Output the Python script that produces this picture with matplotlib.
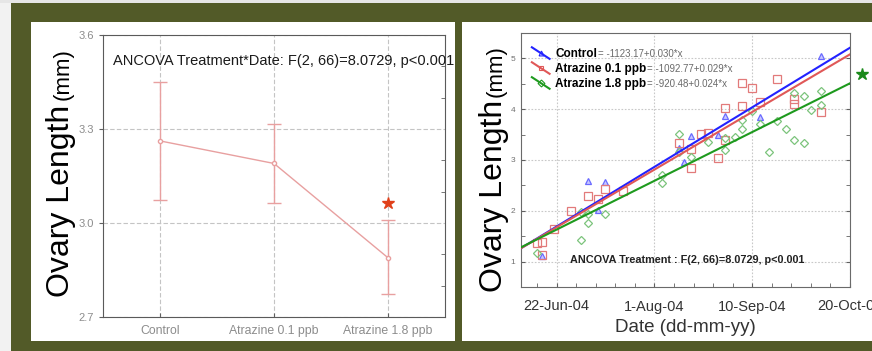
import matplotlib
matplotlib.use("Agg")
import matplotlib.pyplot as plt
import matplotlib.dates as mdates
import numpy as np
from matplotlib.lines import Line2D
from matplotlib.patches import Rectangle
from matplotlib.legend_handler import HandlerLine2D
from matplotlib.ticker import MultipleLocator, FormatStrFormatter, FixedLocator

plt.rcParams['font.family'] = ['Liberation Sans', 'DejaVu Sans']

# left panel: treatment means with confidence limits
groups = ["Control", "Atrazine 0.1 ppb", "Atrazine 1.8 ppb"]
group_mean = [3.262, 3.190, 2.889]
group_upper = [3.451, 3.316, 3.008]
group_lower = [3.072, 3.065, 2.773]
star_left = 3.063

# right panel: ovary length by sampling date
ctrl_dates = ["2004-06-16", "2004-07-05", "2004-07-09", "2004-07-12", "2004-08-11",
              "2004-08-13", "2004-08-16", "2004-08-27", "2004-08-30", "2004-09-13",
              "2004-10-08"]
ctrl_len = [1.11, 2.59, 2.02, 2.56, 3.23, 2.97, 3.47, 3.50, 3.87, 3.84, 5.05]

atr01_dates = ["2004-06-14", "2004-06-16", "2004-06-16", "2004-06-21", "2004-06-28",
               "2004-07-05", "2004-07-09", "2004-07-12", "2004-07-19", "2004-08-11",
               "2004-08-16", "2004-08-16", "2004-08-20", "2004-08-23", "2004-08-27",
               "2004-08-30", "2004-08-30", "2004-09-06", "2004-09-06", "2004-09-10",
               "2004-09-13", "2004-09-20", "2004-09-27", "2004-09-27", "2004-10-08"]
atr01_len = [1.36, 1.39, 1.13, 1.64, 2.00, 2.30, 2.23, 2.42, 2.38, 3.34,
             3.22, 2.84, 3.52, 3.54, 3.03, 3.39, 4.02, 4.07, 4.51, 4.42,
             4.14, 4.59, 4.20, 4.11, 3.94]

atr18_dates = ["2004-06-14", "2004-07-02", "2004-07-02", "2004-07-05", "2004-07-05",
               "2004-07-12", "2004-08-04", "2004-08-04", "2004-08-11", "2004-08-11",
               "2004-08-16", "2004-08-23", "2004-08-30", "2004-08-30", "2004-09-03",
               "2004-09-06", "2004-09-06", "2004-09-10", "2004-09-13", "2004-09-17",
               "2004-09-20", "2004-09-24", "2004-09-27", "2004-09-27", "2004-10-01",
               "2004-10-01", "2004-10-04", "2004-10-08", "2004-10-08"]
atr18_len = [1.16, 1.42, 1.98, 1.93, 1.75, 1.93, 2.70, 2.54, 3.52, 3.16,
             3.05, 3.36, 3.43, 3.20, 3.46, 3.79, 3.62, 3.97, 3.70, 3.15,
             3.77, 3.61, 4.31, 3.39, 4.25, 3.33, 3.98, 4.36, 4.09]

# fitted lines, read at both ends of the date axis
fit_dates = ["2004-06-07", "2004-10-20"]
ctrl_fit = [1.25, 5.21]
atr01_fit = [1.25, 5.08]
atr18_fit = [1.27, 4.51]
equations = ["= -1123.17+0.030*x", "= -1092.77+0.029*x", "= -920.48+0.024*x"]
series_names = ["Control", "Atrazine 0.1 ppb", "Atrazine 1.8 ppb"]
star_right = ("2004-10-25", 4.69)

tick_dates = ["2004-06-22", "2004-08-01", "2004-09-10", "2004-10-20"]
tick_labels = ["22-Jun-04", "1-Aug-04", "10-Sep-04", "20-Oct-04"]

W, H = 872, 351
OLIVE = "#525a28"


def fig_rect(x0, y0, x1, y1, color):
    # rectangle given in pixel coords from the top-left corner
    return Rectangle((x0 / W, 1 - y1 / H), (x1 - x0) / W, (y1 - y0) / H,
                     transform=fig.transFigure, facecolor=color, edgecolor="none", zorder=-5)


class SlantHandler(HandlerLine2D):
    # Statistica style legend key: a short falling line with the marker in the middle
    def create_artists(self, legend, orig_handle, xdescent, ydescent, width, height, fontsize, trans):
        x0, x1 = -xdescent, width - xdescent
        y0, y1 = -ydescent - 0.25 * height, height - ydescent + 0.15 * height
        line = Line2D([x0, x1], [y1, y0], color=orig_handle.get_color(), lw=orig_handle.get_linewidth())
        mk = Line2D([(x0 + x1) / 2], [(y0 + y1) / 2], ls="none", marker=orig_handle.get_marker(),
                    ms=3.5, mfc="none", mec=orig_handle.get_color(), mew=0.8)
        line.set_transform(trans)
        mk.set_transform(trans)
        return [line, mk]


fig = plt.figure(figsize=(W / 100, H / 100), dpi=100, facecolor=OLIVE)
fig.add_artist(fig_rect(0, 0, 11, H, "#f2f2f2"))
fig.add_artist(fig_rect(0, 0, W, 3, "#e6e6e6"))
fig.add_artist(fig_rect(31, 22, 455, 341, "white"))
fig.add_artist(fig_rect(462, 22, W, 341, "white"))

# ---------------- left panel ----------------
axL = fig.add_axes([103 / W, 1 - 317 / H, 342 / W, 282 / H])
xs = np.arange(len(groups))
yerr = [np.subtract(group_mean, group_lower), np.subtract(group_upper, group_mean)]
pink = "#e8a0a0"
axL.errorbar(xs, group_mean, yerr=yerr, fmt="-o", color=pink, lw=1, elinewidth=1,
             capsize=5, capthick=1, ms=3, mfc="white", mec=pink, zorder=3)
axL.plot(xs[2], star_left, ls="none", marker="*", ms=9, color="#e0401a", zorder=4)
axL.set_xlim(-0.5, 2.5)
axL.set_ylim(2.7, 3.6)
axL.set_xticks(xs, groups)
axL.set_yticks([2.7, 3.0, 3.3, 3.6])
axL.yaxis.set_major_formatter(FormatStrFormatter("%.1f"))
axL.yaxis.set_minor_locator(MultipleLocator(0.1))
axL.tick_params(which="major", colors="#606060", labelcolor="#8c8c8c", labelsize=8, length=3, width=0.8)
axL.tick_params(axis="x", which="major", direction="in", pad=6, labelsize=8.8)
axL.tick_params(which="minor", left=False, right=True, direction="in", length=3, color="#606060")
axL.grid(True, ls=(0, (4, 2)), color="#c4c4c4", lw=0.8)
for s in axL.spines.values():
    s.set_color("#5a5a5a")
    s.set_linewidth(0.8)
axL.text(0.029, 0.908, "ANCOVA Treatment*Date: F(2, 66)=8.0729, p<0.001", transform=axL.transAxes,
         fontsize=10.5, va="center", ha="left", color="#1a1a1a", clip_on=False)

# y label in two sizes
fig.text(69 / W, 1 - 297 / H, "Ovary Length", rotation=90, rotation_mode="anchor",
         ha="left", va="baseline", fontsize=23)
fig.text(69 / W, 1 - 100 / H, "(mm)", rotation=90, rotation_mode="anchor",
         ha="left", va="baseline", fontsize=16)

# ---------------- right panel ----------------
axR = fig.add_axes([520.7 / W, 1 - 287 / H, 329.3 / W, 254 / H])
d = lambda v: np.array(v, dtype="datetime64[D]")

axR.plot(d(ctrl_dates), ctrl_len, ls="none", marker="^", ms=4.2, mfc="#c8c8ff", mec="#6a6aff", mew=0.9)
axR.plot(d(atr01_dates), atr01_len, ls="none", marker="s", ms=5.2, mfc="none", mec="#e27a7a", mew=0.9)
axR.plot(d(atr18_dates), atr18_len, ls="none", marker="D", ms=3.8, mfc="none", mec="#7cc47c", mew=0.9)

colors = ["#2222ff", "#e05858", "#1e9a1e"]
markers = ["^", "s", "D"]
for fit, c in zip([ctrl_fit, atr01_fit, atr18_fit], colors):
    axR.plot(d(fit_dates), fit, color=c, lw=1.5, zorder=3)

axR.plot(np.datetime64(star_right[0]), star_right[1], ls="none", marker="*", ms=9,
         color="#1a8a1a", clip_on=False)

axR.set_xlim(np.datetime64("2004-06-07T08:00"), np.datetime64("2004-10-20"))
axR.set_ylim(0.5, 5.5)
axR.set_xticks(d(tick_dates), tick_labels)
minor = np.arange(d(tick_dates)[0] - 40, d(tick_dates)[-1], 8)
axR.xaxis.set_minor_locator(FixedLocator(mdates.date2num(minor)))
axR.set_yticks([1, 2, 3, 4, 5])
axR.yaxis.set_minor_locator(MultipleLocator(0.5))
axR.tick_params(axis="y", which="both", direction="in", right=True, length=3, color="#606060",
                labelsize=6, labelcolor="#707070", pad=4)
axR.tick_params(axis="x", which="both", direction="in", top=False, length=3, color="#606060",
                labelsize=10.5, labelcolor="#333333", pad=9)
axR.grid(True, which="major", ls=(0, (1.5, 1.5)), color="#c8c8c8", lw=0.8)
for s in axR.spines.values():
    s.set_color("#6a6a6a")
    s.set_linewidth(0.8)
axR.set_xlabel("Date (dd-mm-yy)", fontsize=13.5, color="#333333", labelpad=4)

proxies = [Line2D([], [], color=c, marker=m, lw=1.5) for c, m in zip(colors, markers)]
leg = axR.legend(proxies, series_names, loc="upper left", bbox_to_anchor=(0.016, 0.965),
                 frameon=False, borderpad=0, handlelength=1.5, handletextpad=0.5,
                 labelspacing=0.25, prop={"weight": "bold", "size": 8.5},
                 handler_map={Line2D: SlantHandler()})
for txt, eq in zip(leg.get_texts(), equations):
    axR.annotate(eq, xy=(1, 0.45), xycoords=txt, xytext=(0.5, 0), textcoords="offset points",
                 va="center", ha="left", fontsize=7, color="#6a6a6a", zorder=6)

axR.text(0.507, 0.106, "ANCOVA Treatment : F(2, 66)=8.0729, p<0.001", transform=axR.transAxes,
         fontsize=7.8, fontweight="bold", ha="center", va="center", color="#222222")

fig.text(502 / W, 1 - 292 / H, "Ovary Length", rotation=90, rotation_mode="anchor",
         ha="left", va="baseline", fontsize=23)
fig.text(502 / W, 1 - 97 / H, "(mm)", rotation=90, rotation_mode="anchor",
         ha="left", va="baseline", fontsize=16)

fig.savefig("out.png", dpi=100, facecolor=OLIVE)
